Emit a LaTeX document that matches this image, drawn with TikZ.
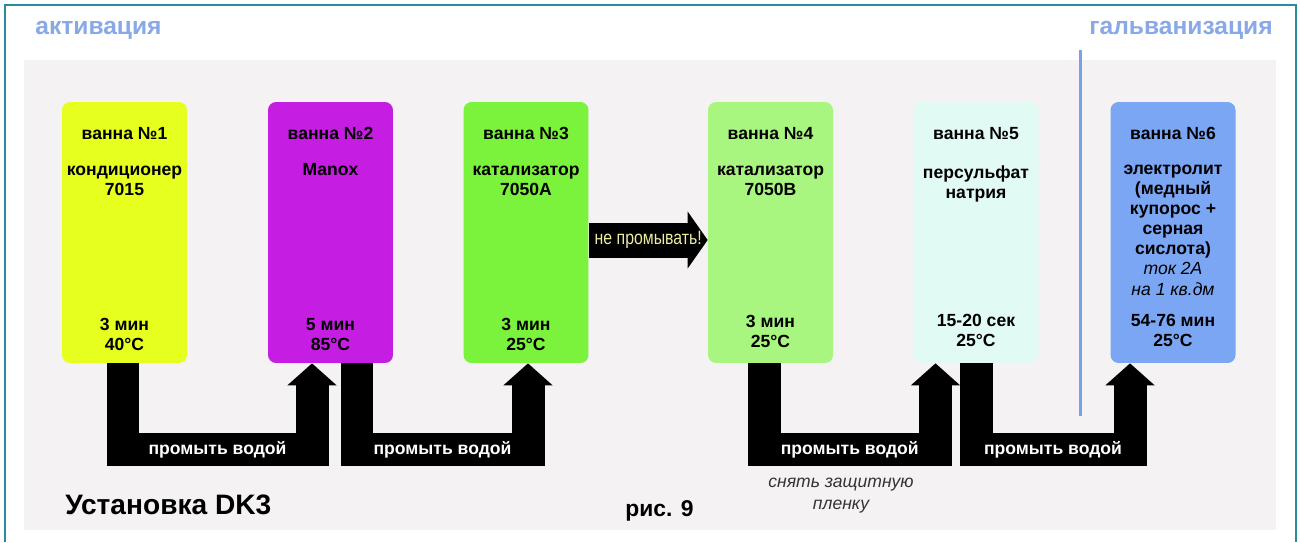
\documentclass[tikz,border=0pt]{standalone}
\usepackage{fontspec}
\setmainfont{Liberation Sans}
\usetikzlibrary{arrows.meta,positioning}
\definecolor{bathA}{HTML}{E6FF1F}
\definecolor{bathB}{HTML}{C61DE2}
\definecolor{bathC}{HTML}{7BF23C}
\definecolor{bathD}{HTML}{A8F57F}
\definecolor{bathE}{HTML}{E2FAF4}
\definecolor{bathF}{HTML}{7BA6F4}
\definecolor{stage}{HTML}{88A8E6}
\definecolor{divline}{HTML}{7BA0E8}
\definecolor{panel}{HTML}{F5F2F3}
\definecolor{frameline}{HTML}{2A8AA0}
\definecolor{nowash}{HTML}{EDEDA0}
\definecolor{note}{HTML}{333333}

\begin{document}
\begin{tikzpicture}[x=0.02cm,y=-0.02cm,
 font=\bfseries\fontsize{10}{11.4}\selectfont,
 bath/.style={rounded corners=0.16cm,minimum width=2.5cm,minimum height=5.22cm,inner sep=0pt},
 txt/.style={anchor=north,align=center,inner sep=0pt},
 wash/.style={line width=0.66cm,line join=miter,-{Triangle[length=0.44cm,width=0.96cm]}},
 wtext/.style={text=white,inner sep=0pt},
 stagelbl/.style={text=stage,font=\bfseries\fontsize{14}{16}\selectfont,inner sep=0pt}]
\useasboundingbox (0,0) rectangle (1300,542);
\fill[white] (0,0) rectangle (1300,542);
\fill[panel] (24,60) rectangle (1276,530);
\draw[frameline,line width=1.5pt] (5,542) |- (1296,5) -- (1296,542);
\draw[divline,line width=1.7pt] (1080,50) -- (1080,416);
\node[stagelbl,anchor=base west] (act) at (35,34) {активация};
\node[stagelbl,anchor=base east] (galv) at (1273,34) {гальванизация};
% baths
\node[bath,fill=bathA] (b1) at (124.5,232.5) {};
\node[bath,fill=bathB] (b2) at (330.5,232.5) {};
\node[bath,fill=bathC] (b3) at (526,232.5) {};
\node[bath,fill=bathD] (b4) at (770.5,232.5) {};
\node[bath,fill=bathE] (b5) at (976,232.5) {};
\node[bath,fill=bathF] (b6) at (1173,232.5) {};
\node[txt] (n1) at (124.5,127) {ванна №1};
\node[txt] (s1) at (124.5,166) {кондиционер\\7015};
\node[txt] (t1) at (124.5,318) {3 мин\\40°C};
\node[txt] (n2) at (330.5,127) {ванна №2};
\node[txt] (s2) at (330.5,163) {Manox};
\node[txt] (t2) at (330.5,318) {5 мин\\85°C};
\node[txt] (n3) at (526,127) {ванна №3};
\node[txt] (s3) at (526,166) {катализатор\\7050A};
\node[txt] (t3) at (526,318) {3 мин\\25°C};
\node[txt] (n4) at (770.5,127) {ванна №4};
\node[txt] (s4) at (770.5,166) {катализатор\\7050B};
\node[txt] (t4) at (770.5,315) {3 мин\\25°C};
\node[txt] (n5) at (976,127) {ванна №5};
\node[txt] (s5) at (976,165) {персульфат\\натрия};
\node[txt] (t5) at (976,314) {15-20 сек\\25°C};
\node[txt] (n6) at (1173,127) {ванна №6};
\node[txt] (s6) at (1173,165) {электролит\\(медный\\купорос +\\серная\\сислота)\\{\mdseries\itshape ток 2А}\\{\mdseries\itshape на 1 кв.дм}};
\node[txt] (t6) at (1173,314) {54-76 мин\\25°C};
% connectors
\draw[line width=0.7cm,-{Triangle[length=0.4cm,width=1.12cm]}] ([yshift=-0.15cm]b3.east) -- node[midway,inner sep=0pt,xscale=0.82,text=nowash,font=\mdseries\fontsize{11}{12}\selectfont] (nw) {не промывать!} ([yshift=-0.15cm]b4.west);
\draw[wash] ([xshift=-0.03cm]b1.south) -- ++(0,86) -| node[pos=0.25,wtext] (w1) {промыть водой} ([xshift=-0.37cm]b2.south);
\draw[wash] ([xshift=0.53cm]b2.south) -- ++(0,86) -| node[pos=0.25,wtext] (w2) {промыть водой} ([xshift=0.04cm]b3.south);
\draw[wash] ([xshift=-0.13cm]b4.south) -- ++(0,86) -| node[pos=0.25,wtext] (w3) {промыть водой} ([xshift=-0.81cm]b5.south);
\draw[wash] (b5.south) -- ++(0,86) -| node[pos=0.25,wtext] (w4) {промыть водой} ([xshift=-0.86cm]b6.south);
\node[txt,text=note,font=\mdseries\itshape\fontsize{10}{12.5}\selectfont] (peel) at (841,478) {снять защитную\\пленку};
\node[anchor=base west,inner sep=0pt,font=\bfseries\fontsize{16}{19}\selectfont] (title) at (65,514) {Установка DK3};
\node[anchor=base west,inner sep=0pt,font=\bfseries\fontsize{13}{16}\selectfont] (fig) at (625,516) {рис. 9};
\end{tikzpicture}
\end{document}
